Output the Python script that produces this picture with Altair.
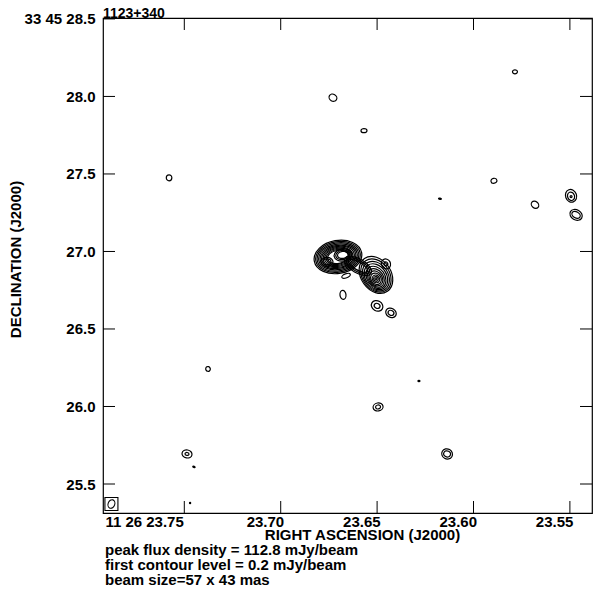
import math
import altair as alt
import pandas as pd

# ---------------- texts ----------------
TITLE = "1123+340"
X_TITLE = "RIGHT ASCENSION (J2000)"
Y_TITLE = "DECLINATION (J2000)"
NOTES = [
    "peak flux density = 112.8 mJy/beam",
    "first contour level = 0.2 mJy/beam",
    "beam size=57 x 43 mas",
]

# ---------------- axes ----------------
RA_RANGE = [23.53854, 23.79217]   # seconds of RA (11h26m)
DEC_RANGE = [25.313, 28.506]      # arcsec of Dec (+33d45')
X_TICKS = [23.75, 23.70, 23.65, 23.60, 23.55]
Y_TICKS = [25.5, 26.0, 26.5, 27.0, 27.5, 28.0, 28.5]
DEC0_DEG = 33 + 45 / 60 + 27 / 3600

# ---------------- contours (one row per contour ellipse) ----------------
# RA seconds, Dec arcsec, major / minor axis (mas), position angle (deg)
c_ra = [
    23.5785, 23.6729, 23.6568, 23.7579, 23.5894, 23.6174, 23.5681,
    23.5494, 23.5494, 23.5494, 23.5468, 23.5468,
    23.6677, 23.6500, 23.6500, 23.6428, 23.6428,
    23.7377, 23.6283, 23.6495, 23.6495, 23.6137, 23.6137,
    23.7486, 23.7486, 23.7450, 23.7470,
    # central source: left blob
    23.6703, 23.6703, 23.6703, 23.6703, 23.6703, 23.6703, 23.6703, 23.6703, 23.6703, 23.6703,
    23.6677, 23.6677, 23.6677, 23.6760, 23.6760,
    # neck
    23.6599, 23.6599, 23.6599,
    # right blob
    23.6506, 23.6506, 23.6506, 23.6506, 23.6506, 23.6506, 23.6506, 23.6506, 23.6506, 23.6506, 23.6506,
    # ear, tail
    23.6454, 23.6454, 23.6661,
]
c_dec = [
    28.159, 27.992, 27.779, 27.475, 27.456, 27.340, 27.301,
    27.359, 27.356, 27.354, 27.236, 27.236,
    26.720, 26.649, 26.649, 26.604, 26.604,
    26.242, 26.165, 25.997, 25.997, 25.694, 25.694,
    25.694, 25.694, 25.610, 25.377,
    26.965, 26.965, 26.965, 26.965, 26.965, 26.965, 26.965, 26.965, 26.965, 26.965,
    26.978, 26.978, 26.978, 26.933, 26.933,
    26.907, 26.907, 26.907,
    26.849, 26.845, 26.841, 26.837, 26.833, 26.829, 26.826, 26.824, 26.823, 26.823, 26.823,
    26.920, 26.920, 26.843,
]
c_maj = [
    32, 52, 39, 39, 39, 19, 52,
    84, 55, 13, 84, 58,
    58, 78, 39, 71, 39,
    32, 13, 65, 32, 71, 45,
    65, 26, 16, 8,
    311, 291, 272, 252, 233, 214, 194, 175, 155, 136,
    116, 94, 71, 78, 52,
    194, 168, 142,
    259, 233, 207, 181, 155, 129, 104, 78, 52, 32, 13,
    65, 26, 58,
]
c_min = [
    26, 45, 26, 36, 32, 8, 42,
    71, 45, 13, 65, 39,
    39, 65, 32, 58, 32,
    29, 8, 52, 26, 65, 39,
    52, 19, 8, 8,
    214, 197, 181, 165, 149, 136, 123, 110, 97, 84,
    78, 61, 45, 58, 39,
    91, 71, 52,
    194, 175, 155, 136, 116, 97, 81, 65, 45, 29, 13,
    58, 23, 26,
]
c_pa = [
    90, 60, 90, 0, 100, 80, 50,
    20, 20, 0, 60, 60,
    5, 60, 60, 60, 60,
    30, 90, 100, 100, 60, 60,
    80, 80, 70, 0,
    100, 100, 100, 100, 100, 100, 100, 100, 100, 100,
    100, 100, 100, 90, 90,
    60, 60, 60,
    35, 35, 35, 35, 35, 35, 35, 35, 35, 35, 35,
    30, 30, 110,
]

# restoring beam
beam_ra = [23.7878]
beam_dec = [25.371]
beam_maj = [57]
beam_min = [43]
beam_pa = [160]

# ---------------- layout ----------------
W, H = 489, 495
FONT = "Liberation Sans"
FS = 15
TICK = 12

mas_per_px = (RA_RANGE[1] - RA_RANGE[0]) * 15 * math.cos(math.radians(DEC0_DEG)) * 1000 / W


def ellipse_frame(ra, dec, maj, mnr, pa):
    rows = []
    for r, d, a, b, p in zip(ra, dec, maj, mnr, pa):
        q = max(min(b / a, 1.0), 0.05)
        rows.append({
            "ra": r,
            "dec": d,
            "size": (a / mas_per_px) ** 2,
            "shape": f"M -1 0 A 1 {q:.3f} 0 1 1 1 0 A 1 {q:.3f} 0 1 1 -1 0 Z",
            "ang": (90 - p) % 180,
        })
    return pd.DataFrame(rows)


cont_df = ellipse_frame(c_ra, c_dec, c_maj, c_min, c_pa)
beam_df = ellipse_frame(beam_ra, beam_dec, beam_maj, beam_min, beam_pa)

xscale = alt.Scale(domain=RA_RANGE, reverse=True, nice=False, zero=False)
yscale = alt.Scale(domain=DEC_RANGE, nice=False, zero=False)

xaxis = alt.Axis(
    values=X_TICKS,
    labelExpr="abs(datum.value - 23.75) < 1e-6 ? '11 26 23.75' : format(datum.value, '.2f')",
    ticks=False, domain=False, grid=False,
    labelAlign="right", labelBaseline="alphabetic", labelPadding=13,
    labelOffset={"expr": "datum.value > 23.74 ? -1 : 3"},
    labelFont=FONT, labelFontSize=FS, labelFontWeight="bold", labelColor="black",
    labelOverlap=False, labelFlush=False,
    title=X_TITLE, titleFont=FONT, titleFontSize=FS, titleFontWeight="bold", titleColor="black",
    titleX=259, titleY=26.5, titleAlign="center", titleBaseline="alphabetic",
)
yaxis = alt.Axis(
    values=Y_TICKS,
    labelExpr="abs(datum.value - 28.5) < 1e-6 ? '33 45 28.5' : format(datum.value, '.1f')",
    ticks=False, domain=False, grid=False,
    labelAlign="right", labelBaseline="middle", labelPadding=8,
    labelFont=FONT, labelFontSize=FS, labelFontWeight="bold", labelColor="black",
    labelOverlap=False, labelFlush=False,
    title=Y_TITLE, titleFont=FONT, titleFontSize=FS, titleFontWeight="bold", titleColor="black",
    titleX=-83, titleY=241, titleAngle=270, titleAlign="center", titleBaseline="alphabetic",
)

X = alt.X("ra:Q", scale=xscale, axis=xaxis)
Y = alt.Y("dec:Q", scale=yscale, axis=yaxis)

contours = alt.Chart(cont_df).mark_point(
    filled=False, color="black", strokeWidth=1.2, opacity=1
).encode(
    x=X, y=Y,
    size=alt.Size("size:Q", scale=None),
    shape=alt.Shape("shape:N", scale=None),
    angle=alt.Angle("ang:Q", scale=None),
)

beam = alt.Chart(beam_df).mark_point(
    filled=False, color="black", strokeWidth=1.1, opacity=1
).encode(
    x=X, y=Y,
    size=alt.Size("size:Q", scale=None),
    shape=alt.Shape("shape:N", scale=None),
    angle=alt.Angle("ang:Q", scale=None),
)

beam_box = alt.Chart(beam_df).mark_point(
    shape="square", size=13 * 13, filled=False, color="black", strokeWidth=1.1, opacity=1
).encode(x=X, y=Y)

xt_df = pd.DataFrame({"ra": X_TICKS})
yt_df = pd.DataFrame({"dec": Y_TICKS})

xt_bottom = alt.Chart(xt_df).mark_rule(color="black", strokeWidth=1).encode(
    x=X, y=alt.value(H), y2=alt.value(H - TICK))
xt_top = alt.Chart(xt_df).mark_rule(color="black", strokeWidth=1).encode(
    x=X, y=alt.value(0), y2=alt.value(TICK))
yt_left = alt.Chart(yt_df).mark_rule(color="black", strokeWidth=1).encode(
    y=Y, x=alt.value(0), x2=alt.value(TICK))
yt_right = alt.Chart(yt_df).mark_rule(color="black", strokeWidth=1).encode(
    y=Y, x=alt.value(W - TICK), x2=alt.value(W))

title = alt.Chart(pd.DataFrame({"t": [TITLE]})).mark_text(
    align="left", baseline="alphabetic", font=FONT, fontSize=14, fontWeight="bold", color="black"
).encode(x=alt.value(0), y=alt.value(-0.5), text="t:N")

notes = []
for i, line in enumerate(NOTES):
    notes.append(
        alt.Chart(pd.DataFrame({"t": [line]})).mark_text(
            align="left", baseline="alphabetic", font=FONT, fontSize=FS, fontWeight="bold", color="black"
        ).encode(x=alt.value(2), y=alt.value(H + 41.5 + 15 * i), text="t:N")
    )

chart = alt.layer(
    contours, beam, beam_box, xt_bottom, xt_top, yt_left, yt_right, title, *notes
).properties(
    width=W, height=H,
    padding={"left": 95, "top": 10, "right": 1, "bottom": 73},
    autosize=alt.AutoSizeParams(type="none"),
).configure_view(
    stroke="black", strokeWidth=1.2
).configure_axis(grid=False)

chart.save("out.html", embed_options={"renderer": "svg", "actions": False})
